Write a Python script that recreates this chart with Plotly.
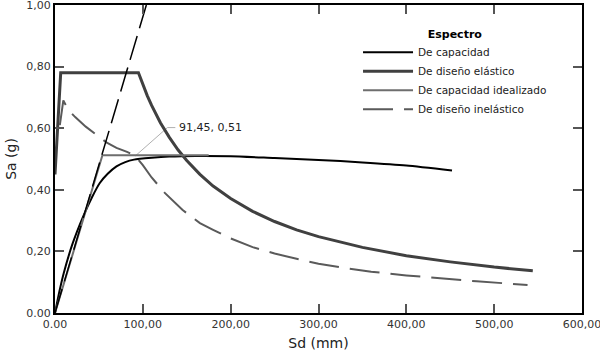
import plotly.graph_objects as go

# ---- data ----
cap_x = [0, 5, 10, 20, 32, 42, 51, 60, 70, 80, 90, 110, 130, 160, 200, 250, 300, 350, 400, 452]
cap_y = [0, 0.07, 0.13, 0.225, 0.313, 0.375, 0.422, 0.452, 0.476, 0.49, 0.498, 0.504, 0.508, 0.51, 0.509, 0.503, 0.497, 0.489, 0.479, 0.463]

ela_x = [0, 6.5, 95, 100, 105, 110, 120, 130, 140, 150, 165, 180, 200, 225, 250, 275, 300, 350, 400, 450, 500, 544]
ela_y = [0.45, 0.78, 0.78, 0.741, 0.706, 0.674, 0.618, 0.571, 0.530, 0.495, 0.450, 0.412, 0.372, 0.330, 0.297, 0.270, 0.248, 0.213, 0.186, 0.166, 0.149, 0.137]

ide_x = [0, 54, 175]
ide_y = [0, 0.512, 0.512]

ine_x = [5.5, 9.5, 15, 23, 35, 47, 59, 70, 82, 91.45, 100, 110, 125, 145, 165, 180, 200, 225, 250, 275, 300, 330, 360, 400, 440, 480, 538]
ine_y = [0.61, 0.69, 0.66, 0.636, 0.605, 0.578, 0.553, 0.536, 0.523, 0.51, 0.48, 0.44, 0.39, 0.335, 0.292, 0.27, 0.242, 0.214, 0.193, 0.176, 0.16, 0.146, 0.134, 0.122, 0.112, 0.103, 0.091]

per_x = [0, 104]
per_y = [0, 1.0]

perf_x = [91.45, 128, 137]
perf_y = [0.51, 0.602, 0.602]
perf_label = "91,45, 0,51"
perf_label_x = 139
perf_label_y = 0.602

x_ticks = [0, 100, 200, 300, 400, 500, 600]
x_text = ["0.00", "100,00", "200,00", "300,00", "400,00", "500,00", "600,00"]
y_ticks = [0, 0.2, 0.4, 0.6, 0.8, 1.0]
y_text = ["0.00", "0,20", "0,40", "0,60", "0,80", "1,00"]

FONT = "DejaVu Sans"

fig = go.Figure()

fig.add_trace(go.Scatter(x=perf_x, y=perf_y, mode="lines", showlegend=False,
                         line=dict(color="#b0b0b0", width=1), hoverinfo="skip"))
fig.add_trace(go.Scatter(x=cap_x, y=cap_y, mode="lines", name="De capacidad",
                         line=dict(color="#000000", width=2, shape="spline", smoothing=0.6)))
fig.add_trace(go.Scatter(x=ela_x, y=ela_y, mode="lines", name="De diseño elástico",
                         line=dict(color="#404040", width=3)))
fig.add_trace(go.Scatter(x=ide_x, y=ide_y, mode="lines", name="De capacidad idealizado",
                         line=dict(color="#6e6e6e", width=2)))
fig.add_trace(go.Scatter(x=ine_x, y=ine_y, mode="lines", name="De diseño inelástico",
                         line=dict(color="#5a5a5a", width=2, dash="30px,11px")))
fig.add_trace(go.Scatter(x=per_x, y=per_y, mode="lines", showlegend=False,
                         line=dict(color="#000000", width=1.5, dash="25px,8px")))

fig.add_annotation(x=perf_label_x, y=perf_label_y, text=perf_label, showarrow=False,
                   xanchor="left", yanchor="middle",
                   font=dict(family=FONT, size=11, color="#222222"))

axis_common = dict(showgrid=False, zeroline=False, showline=True, linecolor="#000000",
                   linewidth=2, mirror="ticks", ticks="inside", ticklen=9,
                   tickwidth=1.5, tickcolor="#555555", ticklabeloverflow="allow",
                   tickfont=dict(family=FONT, size=11, color="#333333"))

fig.update_xaxes(range=[0, 600], tickvals=x_ticks, ticktext=x_text,
                 title=dict(text="Sd (mm)", font=dict(family=FONT, size=14, color="#222222"), standoff=8),
                 **axis_common)
fig.update_yaxes(range=[0, 1.0], tickvals=y_ticks, ticktext=y_text,
                 title=dict(text="Sa (g)", font=dict(family=FONT, size=14, color="#222222"), standoff=6),
                 **axis_common)

fig.update_layout(
    width=600, height=354,
    margin=dict(l=55, r=18, t=5, b=41, autoexpand=False),
    paper_bgcolor="white", plot_bgcolor="white",
    font=dict(family=FONT, size=11, color="#222222"),
    legend=dict(x=0.575, y=0.94, xanchor="left", yanchor="top",
                bgcolor="rgba(0,0,0,0)", itemwidth=50, tracegroupgap=0,
                title=dict(text="<b>Espectro</b>", side="top center",
                           font=dict(family=FONT, size=11, color="#000000")),
                font=dict(family=FONT, size=10.5, color="#222222")),
)

fig.write_html("out.html")
